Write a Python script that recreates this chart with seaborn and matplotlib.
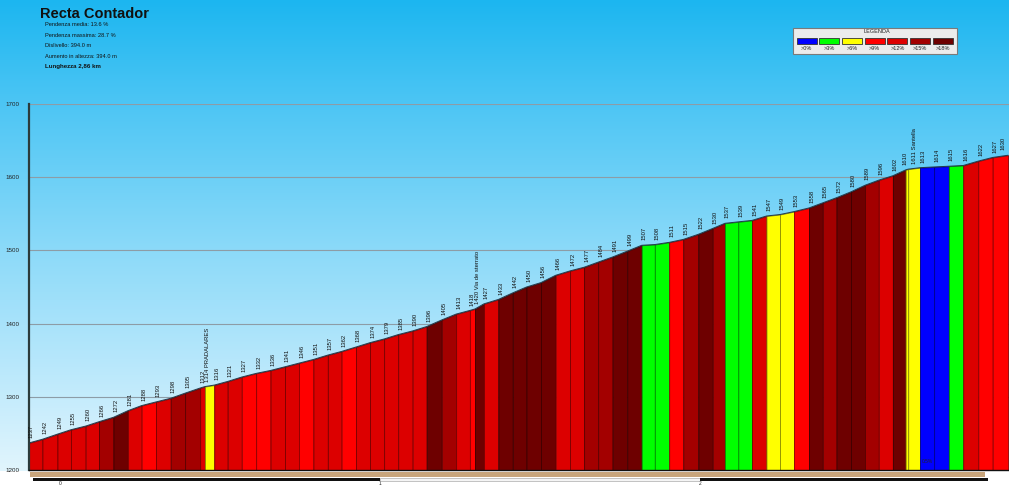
import numpy as np
import seaborn as sns
import matplotlib.pyplot as plt
from matplotlib.patches import Rectangle
from matplotlib.colors import to_rgb
from matplotlib.transforms import blended_transform_factory

# Profile points: distance (km) and altitude (m)
dist = [-0.097, -0.055, -0.008, 0.034, 0.080, 0.122, 0.167, 0.212, 0.255, 0.300,
        0.346, 0.391, 0.438, 0.453, 0.482, 0.524, 0.568, 0.613, 0.658, 0.703,
        0.747, 0.792, 0.837, 0.880, 0.925, 0.969, 1.013, 1.057, 1.102, 1.146,
        1.193, 1.238, 1.281, 1.297, 1.325, 1.370, 1.415, 1.458, 1.503, 1.549,
        1.594, 1.638, 1.682, 1.727, 1.773, 1.818, 1.859, 1.904, 1.948, 1.995,
        2.040, 2.078, 2.120, 2.163, 2.208, 2.250, 2.294, 2.341, 2.384, 2.427,
        2.472, 2.516, 2.559, 2.603, 2.643, 2.651, 2.688, 2.732, 2.778, 2.823,
        2.870, 2.915, 2.963]
alt = [1237, 1242, 1249, 1255, 1260, 1266, 1272, 1281, 1288, 1293,
       1298, 1305, 1312, 1314, 1316, 1321, 1327, 1332, 1336, 1341,
       1346, 1351, 1357, 1362, 1368, 1374, 1379, 1385, 1390, 1396,
       1405, 1413, 1418, 1420, 1427, 1433, 1442, 1450, 1456, 1466,
       1472, 1477, 1484, 1491, 1499, 1507, 1508, 1511, 1515, 1522,
       1530, 1537, 1539, 1541, 1547, 1549, 1553, 1558, 1565, 1572,
       1580, 1589, 1596, 1602, 1610, 1611, 1613, 1614, 1615, 1616,
       1622, 1627, 1630]

# Named waypoints
waypoint_alt = [1314, 1420, 1611]
waypoint_names = ["PRADALARES", "Via de sterrato", "Santella"]

# Gradient class of each segment (index into legend classes)
seg_class = [4, 4, 4, 4, 4, 5, 6, 4, 3, 4,
             5, 5, 4, 2, 4, 4, 3, 3, 4, 4,
             3, 4, 4, 3, 4, 4, 4, 4, 4, 6,
             5, 4, 3, 6, 4, 6, 6, 6, 6, 4,
             4, 5, 5, 6, 6, 1, 1, 3, 5, 6,
             5, 1, 1, 4, 2, 2, 3, 6, 5, 6,
             6, 5, 4, 6, 2, 2, 0, 0, 1, 4,
             3, 3]

legend_labels = [">0%", ">3%", ">6%", ">9%", ">12%", ">15%", ">18%"]
legend_colors = ["#0000ff", "#00ff00", "#ffff00", "#ff0000", "#dc0000", "#a30000", "#6e0000"]

info_lines = ["Pendenza media: 13.6 %", "Pendenza massima: 28.7 %", "Dislivello: 394.0 m",
              "Aumento in altezza: 394.0 m"]

sns.set_style("white")
plt.rcParams['font.family'] = ['Liberation Sans', 'DejaVu Sans']

W, H = 1009, 500
fig = plt.figure(figsize=(W / 100, H / 100), dpi=100)

# sky gradient background
bg = fig.add_axes([0, 0, 1, 1], zorder=0)
bg.axis("off")
rows = np.arange(H)
stops_y = [0, 100, 250, 400, 470, 471, 500]
stops_c = np.array([[28, 182, 240], [75, 197, 244], [140, 218, 249], [198, 236, 252],
                    [225, 245, 253], [255, 255, 255], [255, 255, 255]]) / 255
grad = np.stack([np.interp(rows, stops_y, stops_c[:, k]) for k in range(3)], axis=-1)
bg.imshow(grad[:, None, :], aspect="auto", extent=[0, 1, 0, 1])
bg.set_xlim(0, 1)
bg.set_ylim(0, 1)

ax = fig.add_axes([29 / W, 30 / H, 980 / W, 366 / H], zorder=1)
ax.patch.set_alpha(0)

for i, c in enumerate(seg_class):
    col = legend_colors[c]
    edge = tuple(v * 0.55 for v in to_rgb(col))
    ax.fill_between(dist[i:i + 2], [1200, 1200], alt[i:i + 2], facecolor=col,
                    edgecolor=edge, linewidth=0.6, zorder=2)

sns.lineplot(x=dist, y=alt, ax=ax, color="#24394a", linewidth=0.7, zorder=3)

# altitude labels (points very close together get spread apart a little)
for i, (d, a) in enumerate(zip(dist, alt)):
    lab = str(a)
    if a in waypoint_alt:
        lab += " " + waypoint_names[waypoint_alt.index(a)]
    dx = 1.8
    if i + 1 < len(dist) and dist[i + 1] - d < 0.012:
        dx -= 2.5
    if i > 0 and d - dist[i - 1] < 0.012:
        dx += 2.5
    if i == len(dist) - 1:
        dx = -3.5
    ax.annotate(lab, (d, a), xytext=(dx, 3.5), textcoords="offset points",
                rotation=90, ha="center", va="bottom",
                fontsize=4.2, color="#111111", zorder=4)

ax.text(2.71, 1209, "0.5%", fontsize=3.5, color="#222222", ha="center", zorder=4)

ax.set_xlim(-0.097, 2.966)
ax.set_ylim(1200, 1700)
ax.set_yticks(range(1200, 1701, 100))
ax.set_xticks([0, 1, 2])
ax.set_xticklabels(["0", "1", "2"])
ax.yaxis.grid(True, color="#8d9ca6", linewidth=0.8)
ax.xaxis.grid(False)
ax.set_axisbelow(True)
ax.tick_params(axis="y", length=0, labelsize=4.5, pad=7, colors="#222222")
ax.tick_params(axis="x", length=0, labelsize=3.5, pad=8, colors="#222222")
for s in ["top", "right"]:
    ax.spines[s].set_visible(False)
ax.spines["left"].set_color("#2b3b3b")
ax.spines["left"].set_linewidth(1.6)
ax.spines["bottom"].set_color("#111111")
ax.spines["bottom"].set_linewidth(1.0)

# distance bar under the profile
tr = blended_transform_factory(ax.transData, ax.transAxes)
ax.add_patch(Rectangle((-0.094, -0.0191), 2.984, 0.015, transform=tr, clip_on=False,
                       facecolor="#c8a57c", edgecolor="none"))
ax.add_patch(Rectangle((-0.085, -0.0301), 1.085, 0.008, transform=tr, clip_on=False,
                       facecolor="#111111", edgecolor="none"))
ax.add_patch(Rectangle((1, -0.0301), 1, 0.008, transform=tr, clip_on=False,
                       facecolor="#f4f4f4", edgecolor="#999999", linewidth=0.4))
ax.add_patch(Rectangle((2, -0.0301), 0.9, 0.008, transform=tr, clip_on=False,
                       facecolor="#111111", edgecolor="none"))

# title and info block
fig.text(40 / W, 1 - 13.5 / H, "Recta Contador", fontsize=10.5, weight="bold",
         va="center", color="#111111")
for k, line in enumerate(info_lines):
    fig.text(45 / W, 1 - (25 + 10.4 * k) / H, line, fontsize=4.1, va="center", color="#111111")
fig.text(45 / W, 1 - 66.5 / H, "Lunghezza 2,86 km", fontsize=4.4, weight="semibold",
         va="center", color="#111111")

# legend box
fig.add_artist(Rectangle((793 / W, 1 - 54 / H), 164 / W, 26 / H, transform=fig.transFigure,
                         facecolor="#ececec", edgecolor="#7a7a7a", linewidth=0.8))
fig.text(877 / W, 1 - 31.5 / H, "LEGENDA", fontsize=4.0, ha="center", va="center", color="#222222")
for i, (lab, col) in enumerate(zip(legend_labels, legend_colors)):
    x0 = 796.7 + 22.67 * i
    fig.add_artist(Rectangle((x0 / W, 1 - 44 / H), 20 / W, 6.3 / H, transform=fig.transFigure,
                             facecolor=col, edgecolor="#333333", linewidth=0.6))
    fig.text((x0 + 10) / W, 1 - 48.5 / H, lab, fontsize=4.0, ha="center", va="center",
             color="#222222")

fig.savefig("out.png", dpi=100)
